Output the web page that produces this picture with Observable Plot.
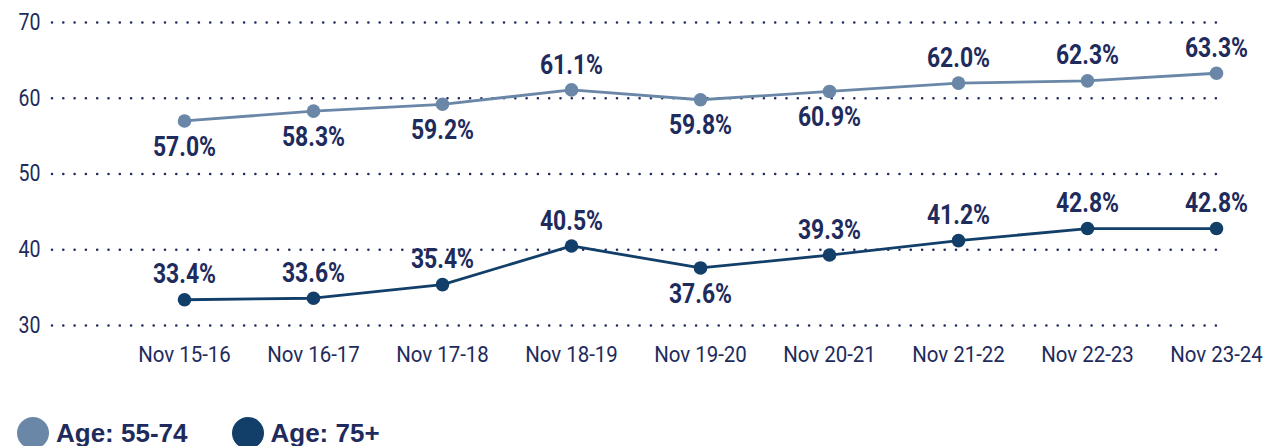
<!DOCTYPE html>
<html><head><meta charset="utf-8">
<script src="https://cdn.jsdelivr.net/npm/d3@7"></script>
<script src="https://cdn.jsdelivr.net/npm/@observablehq/plot@0.6"></script>
<style>
body{margin:0;background:#fff;font-family:Roboto,sans-serif}
.legend{display:flex;align-items:center;margin-top:32px;padding-left:17px;font-family:"Liberation Sans",Arial,sans-serif;font-weight:bold;font-size:26px;color:#1e2b5c;height:32px;white-space:nowrap}
.item{display:flex;align-items:center;margin-right:44px}
.sw{width:32px;height:32px;border-radius:50%;display:inline-block;margin-right:7px}
</style></head><body><div id="chart"></div><div class="legend" id="legend"></div>
<script>
const periods = ["Nov 15-16","Nov 16-17","Nov 17-18","Nov 18-19","Nov 19-20","Nov 20-21","Nov 21-22","Nov 22-23","Nov 23-24"];
const age55to74 = [57.0,58.3,59.2,61.1,59.8,60.9,62.0,62.3,63.3];
const age75plus = [33.4,33.6,35.4,40.5,37.6,39.3,41.2,42.8,42.8];
const seriesNames = ["Age: 55-74","Age: 75+"];
const seriesColors = ["#6a87a8","#123f69"];
const yTicks = [30,40,50,60,70];

// label placement (layout): true = above the point
const above = [
  [false,false,false,true,false,false,true,true,true],
  [true,true,true,true,false,true,true,true,true]
];

const rows = [];
[age55to74, age75plus].forEach((vals, s) => {
  vals.forEach((v, i) => rows.push({period: periods[i], value: v, series: seriesNames[s], above: above[s][i]}));
});
const navy = "#1e2b5c";

const chart = Plot.plot({
  width: 1265, height: 385,
  marginLeft: 52, marginRight: 45, marginTop: 22, marginBottom: 60,
  style: {fontFamily: "Roboto, sans-serif", fontSize: "20px", color: navy, background: "#fff"},
  x: {type: "point", domain: periods, range: [182, 1217], padding: 0},
  y: {domain: [30, 70]},
  color: {domain: seriesNames, range: seriesColors},
  marks: [
    Plot.ruleY(yTicks, {stroke: navy, strokeWidth: 2.6, strokeDasharray: "0 11.3", strokeLinecap: "round"}),
    Plot.axisY({ticks: yTicks, tickSize: 0, tickPadding: 12, label: null, fill: navy, fontSize: 23}),
    Plot.axisX({tickSize: 0, tickPadding: 21, label: null, fill: navy, fontSize: 22}),
    Plot.line(rows, {x: "period", y: "value", z: "series", stroke: "series", strokeWidth: 2.8}),
    Plot.dot(rows, {x: "period", y: "value", fill: "series", r: 6.8}),
    Plot.text(rows.filter(d => d.above), {x: "period", y: "value", text: d => d.value.toFixed(1) + "%", dy: -25, fill: navy, fontSize: 27, fontWeight: "bold"}),
    Plot.text(rows.filter(d => !d.above), {x: "period", y: "value", text: d => d.value.toFixed(1) + "%", dy: 26, fill: navy, fontSize: 27, fontWeight: "bold"})
  ]
});
document.getElementById("chart").append(chart);

// horizontally condense text to mimic the condensed typeface
function condense(sel, k) {
  sel.each(function() {
    const t = this.getAttribute("transform") || "";
    const xa = this.getAttribute("x");
    const x = xa !== null && !isNaN(+xa) ? +xa : 0;
    if (xa !== null && !isNaN(+xa)) this.removeAttribute("x");
    this.setAttribute("transform", `${t} translate(${x},0) scale(${k},1)`);
  });
}
const svg = d3.select(chart);
condense(svg.selectAll('g[aria-label="text"] text'), 0.85);
condense(svg.selectAll('g[aria-label="y-axis tick label"] text'), 0.85);
condense(svg.selectAll('g[aria-label="x-axis tick label"] text'), 0.93);

const legend = document.getElementById("legend");
seriesNames.forEach((n, i) => {
  const it = document.createElement("div");
  it.className = "item";
  const sw = document.createElement("span");
  sw.className = "sw";
  sw.style.background = seriesColors[i];
  it.append(sw, document.createTextNode(n));
  legend.append(it);
});
</script></body></html>
